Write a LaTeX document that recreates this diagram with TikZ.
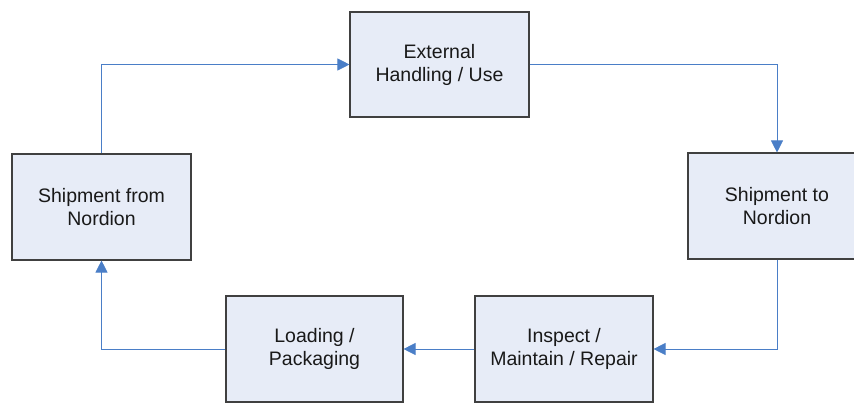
\documentclass[tikz,border=0pt]{standalone}
\usepackage{fontspec}
\setmainfont{Liberation Sans}
\usetikzlibrary{arrows.meta}
\definecolor{boxfill}{HTML}{E7ECF7}
\definecolor{boxline}{HTML}{404040}
\definecolor{linkblue}{HTML}{4A7EC7}
\tikzset{
  stagebox/.style={draw=boxline, line width=1.1pt, fill=boxfill, align=center,
    font=\fontsize{19.5}{23}\selectfont, text=black!90, inner sep=0pt},
  link/.style={draw=linkblue, line width=0.8pt, -{Triangle[length=12pt,width=12pt]}},
}
\begin{document}
\begin{tikzpicture}[x=1pt,y=-1pt]
\useasboundingbox (0,0) rectangle (854,405);
\fill[white] (0,0) rectangle (854,405);
\node[stagebox, minimum width=179pt, minimum height=105pt] (ext) at (439.5,64.5) {External\\Handling / Use};
\node[stagebox, minimum width=178pt, minimum height=106pt] (sto) at (777,206) {Shipment to\\Nordion};
\node[stagebox, minimum width=178pt, minimum height=106pt] (ins) at (564,349) {Inspect /\\Maintain / Repair};
\node[stagebox, minimum width=177pt, minimum height=106pt] (load) at (314.5,349) {Loading /\\Packaging};
\node[stagebox, minimum width=179pt, minimum height=106pt] (sfrom) at (101.5,207) {Shipment from\\Nordion};
\draw[link] (ext.east) -| (sto.north);
\draw[link] (sto.south) |- (ins.east);
\draw[link] (ins.west) -- (load.east);
\draw[link] (load.west) -| (sfrom.south);
\draw[link] (sfrom.north) |- (ext.west);
\end{tikzpicture}
\end{document}
